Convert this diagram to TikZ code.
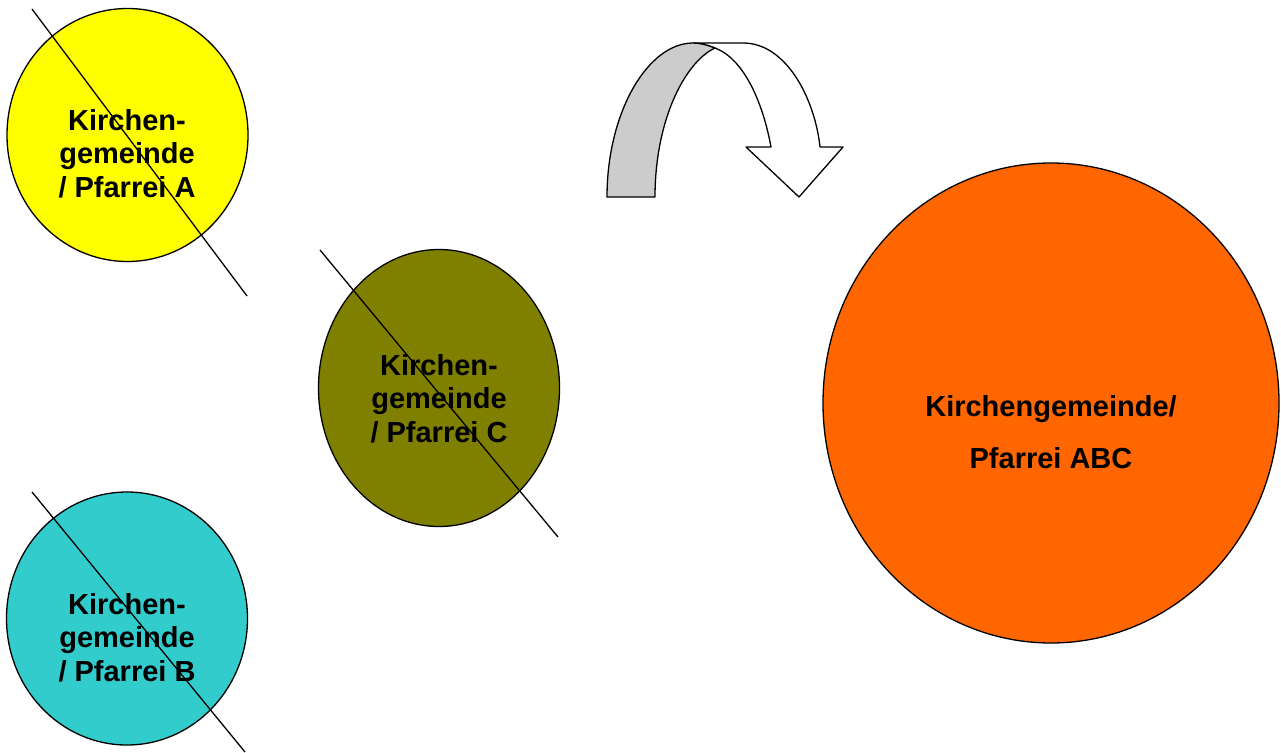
\documentclass[tikz,border=0pt]{standalone}
\usepackage{fontspec}
\setmainfont{Liberation Sans}
\usetikzlibrary{shapes.geometric}
\definecolor{cyel}{HTML}{FFFF00}
\definecolor{colive}{HTML}{808000}
\definecolor{ccyan}{HTML}{33CCCC}
\definecolor{corange}{HTML}{FF6600}
\definecolor{cgray}{HTML}{CCCCCC}
\tikzset{
  parish/.style={ellipse, draw=black, line width=1.3pt, inner sep=0pt},
  lbl/.style={align=center, inner sep=0pt, anchor=north, font=\fontsize{29}{33.5}\selectfont\bfseries},
  cross/.style={draw=black, line width=1.3pt},
  arrowshape/.style={draw=black, line width=1.3pt, line join=round}
}
\begin{document}
\begin{tikzpicture}[x=1pt,y=-1pt]
\useasboundingbox (0,0) rectangle (1281,752);
% circles
\node[parish, fill=cyel, minimum width=241pt, minimum height=253pt] (A) at (127.5,135) {};
\node[parish, fill=ccyan, minimum width=241pt, minimum height=253pt] (B) at (127,618.5) {};
\node[parish, fill=colive, minimum width=241pt, minimum height=277pt] (C) at (439,388) {};
\node[parish, fill=corange, minimum width=456pt, minimum height=480pt] (ABC) at (1051,403) {};
% labels
\node[lbl] (tA) at (127,109) {Kirchen-\\gemeinde\\/ Pfarrei A};
\node[lbl] (tB) at (127,593) {Kirchen-\\gemeinde\\/ Pfarrei B};
\node[lbl] (tC) at (439,354) {Kirchen-\\gemeinde\\/ Pfarrei C};
\node[lbl, font=\fontsize{29}{51.5}\selectfont\bfseries] (tABC) at (1051,395.5) {Kirchengemeinde/\\Pfarrei ABC};
% crossing lines
\coordinate (a1) at (32,9);   \coordinate (a2) at (247,296);
\coordinate (b1) at (32,492); \coordinate (b2) at (245,752);
\coordinate (c1) at (320,250);\coordinate (c2) at (558,537);
\draw[cross] (a1) -- (a2);
\draw[cross] (b1) -- (b2);
\draw[cross] (c1) -- (c2);
% curved arrow
\coordinate (gL) at (607,197); \coordinate (gR) at (655,197);
\coordinate (top) at (693,43); \coordinate (meet) at (715,48);
\coordinate (wT) at (743,43); \coordinate (wO) at (820,147);
\coordinate (hR) at (843,147); \coordinate (tip) at (799,197);
\coordinate (hL) at (746,147); \coordinate (wI) at (771,147);
\draw[arrowshape, fill=white] (top) -- (wT) .. controls (787,43) and (815,100) .. (wO)
  -- (hR) -- (tip) -- (hL) -- (wI) .. controls (762,98) and (742,58) .. (meet)
  .. controls (707,45) and (700,43) .. (top) -- cycle;
\draw[arrowshape, fill=cgray] (gL) .. controls (607,112) and (648,43) .. (top)
  .. controls (700,43) and (707,45) .. (meet)
  .. controls (685,62) and (655,120) .. (gR) -- cycle;
\end{tikzpicture}
\end{document}
